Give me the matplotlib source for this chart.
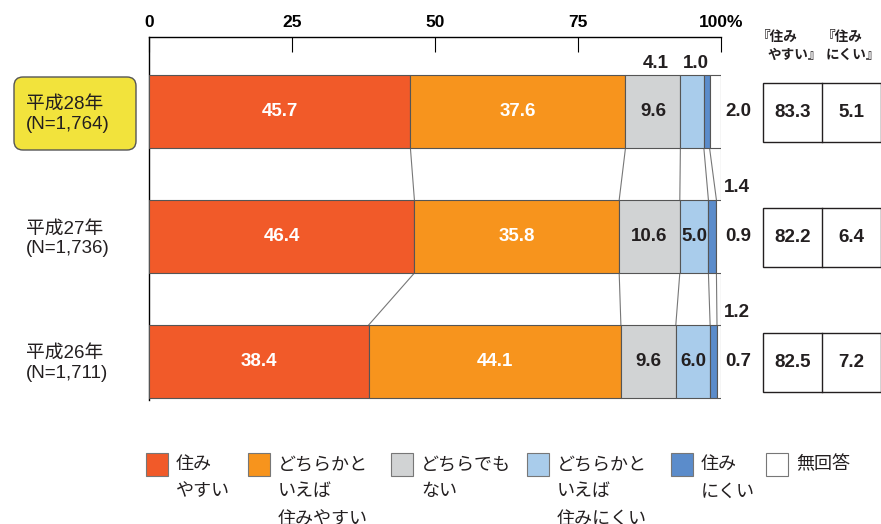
import matplotlib
matplotlib.use("Agg")
import matplotlib.pyplot as plt
from matplotlib.patches import Rectangle, FancyBboxPatch
from matplotlib.transforms import IdentityTransform
import numpy as np

# ---------------- data ----------------
years = ["平成28年\n(N=1,764)", "平成27年\n(N=1,736)", "平成26年\n(N=1,711)"]
categories = ["住み\nやすい", "どちらかと\nいえば\n住みやすい", "どちらでも\nない",
              "どちらかと\nいえば\n住みにくい", "住み\nにくい", "無回答"]
sumiyasui = [45.7, 46.4, 38.4]
dochira_yasui = [37.6, 35.8, 44.1]
dochiramo = [9.6, 10.6, 9.6]
dochira_nikui = [4.1, 5.0, 6.0]
suminikui = [1.0, 1.4, 1.2]
mukaitou = [2.0, 0.9, 0.7]
total_yasui = [83.3, 82.2, 82.5]
total_nikui = [5.1, 6.4, 7.2]
xticks = [0, 25, 50, 75, 100]
xticklabels = ["0", "25", "50", "75", "100%"]

colors = ["#F15A29", "#F7941D", "#D1D3D4", "#A9CCEB", "#5B8CCB", "#FFFFFF"]
series = [sumiyasui, dochira_yasui, dochiramo, dochira_nikui, suminikui, mukaitou]

W, H = 881, 524
JP = ["Liberation Sans", "Noto Sans CJK JP"]
NUM = ["Liberation Sans", "DejaVu Sans"]

fig = plt.figure(figsize=(W / 100, H / 100), dpi=100)
fig.patch.set_facecolor("white")

ax = fig.add_axes([149 / W, 1 - 400 / H, (721 - 149) / W, (400 - 37) / H])
ax.set_xlim(0, 100)
ax.set_ylim(2.308, -0.596)
ax.patch.set_alpha(0)

ypos = np.arange(len(years))
bh = 0.584

data = np.array(series)
lefts = np.vstack([np.zeros(len(years)), np.cumsum(data, axis=0)[:-1]])

for i in range(len(series)):
    ax.barh(ypos, data[i], left=lefts[i], height=bh, color=colors[i],
            edgecolor="#555555", linewidth=0.8, zorder=3)

# connector lines between bars
bounds = np.minimum(np.cumsum(data, axis=0), 100)
for r in range(len(years) - 1):
    for b in range(len(series)):
        ax.plot([bounds[b, r], bounds[b, r + 1]], [ypos[r] + bh / 2, ypos[r + 1] - bh / 2],
                color="#777777", lw=0.8, zorder=2)

# spines/ticks
for s in ["bottom", "right"]:
    ax.spines[s].set_visible(False)
ax.spines["top"].set_linewidth(1.0)
ax.spines["left"].set_linewidth(1.0)
ax.xaxis.tick_top()
ax.set_xticks(xticks)
ax.set_xticklabels(xticklabels, fontfamily=NUM, fontweight="bold", fontsize=12.5)
ax.tick_params(axis="x", direction="in", length=11, width=0.8, pad=5)
ax.set_yticks([])

# labels inside bars
lab_kw = dict(ha="center", va="center", fontsize=13.5, fontweight="bold", family=NUM, zorder=5)
for r in range(len(years)):
    for i in range(3):
        c = "white" if i < 2 else "#231F20"
        ax.text(lefts[i, r] + data[i, r] / 2, ypos[r], f"{data[i, r]:.1f}", color=c, **lab_kw)
    if data[3, r] >= 5:
        ax.text(lefts[3, r] + data[3, r] / 2, ypos[r], f"{data[3, r]:.1f}", color="#231F20", **lab_kw)
    ax.text(103.1, ypos[r], f"{data[5, r]:.1f}", color="#231F20", clip_on=False, **lab_kw)

# outside labels for small segments
ax.text(88.6, ypos[0] - bh / 2 - 0.09, f"{dochira_nikui[0]:.1f}", color="#231F20", clip_on=False, **lab_kw)
ax.text(95.6, ypos[0] - bh / 2 - 0.09, f"{suminikui[0]:.1f}", color="#231F20", clip_on=False, **lab_kw)
for r in (1, 2):
    ax.text(102.8, ypos[r] - bh / 2 - 0.10, f"{suminikui[r]:.1f}", color="#231F20",
            clip_on=False, **lab_kw)

# right summary boxes
for r in range(len(years)):
    bx0, bmid, bx1 = 107.3, 117.6, 127.95
    hh = 59 / 125
    yc = ypos[r] + 0.01
    ax.add_patch(Rectangle((bx0, yc - hh / 2), bx1 - bx0, hh, fill=False, edgecolor="#231F20",
                           lw=1.0, clip_on=False))
    ax.plot([bmid, bmid], [yc - hh / 2, yc + hh / 2], color="#231F20", lw=1.0, clip_on=False)
    ax.text((bx0 + bmid) / 2, yc, f"{total_yasui[r]:.1f}", color="#231F20", clip_on=False, **lab_kw)
    ax.text((bmid + bx1) / 2, yc, f"{total_nikui[r]:.1f}", color="#231F20", clip_on=False, **lab_kw)

T = IdentityTransform()


def ftext(x, y, s, **kw):
    fig.text(x / W, 1 - y / H, s, **kw)


hdr_kw = dict(fontsize=9.8, fontweight="bold", family=JP, color="#231F20", va="center", ha="left")
ftext(757, 37, "『住み", **hdr_kw)
ftext(768, 55, "やすい』", **hdr_kw)
ftext(822, 37, "『住み", **hdr_kw)
ftext(826, 55, "にくい』", **hdr_kw)

# year labels
ybox = FancyBboxPatch((14, H - 150), 122, 73, boxstyle="round,pad=0,rounding_size=9",
                      transform=T, facecolor="#F2E33C", edgecolor="#555555", lw=1.0)
fig.add_artist(ybox)
year_y = [114.5, 239, 363.5]
for r, lab in enumerate(years):
    ftext(26, year_y[r], lab, fontsize=13.5, family=JP, color="#231F20", va="center", ha="left",
          linespacing=1.2)

# legend
leg_x = [146, 248, 391, 527, 671, 766]
for i, (lx, cat) in enumerate(zip(leg_x, categories)):
    fig.add_artist(Rectangle((lx, H - 476), 22, 23, transform=T, facecolor=colors[i],
                             edgecolor="#777777", lw=0.8))
    ftext(lx + 30, 456, cat, fontsize=13, family=JP, color="#231F20", va="top", ha="left",
          linespacing=1.8)

fig.savefig("out.png", dpi=100)
